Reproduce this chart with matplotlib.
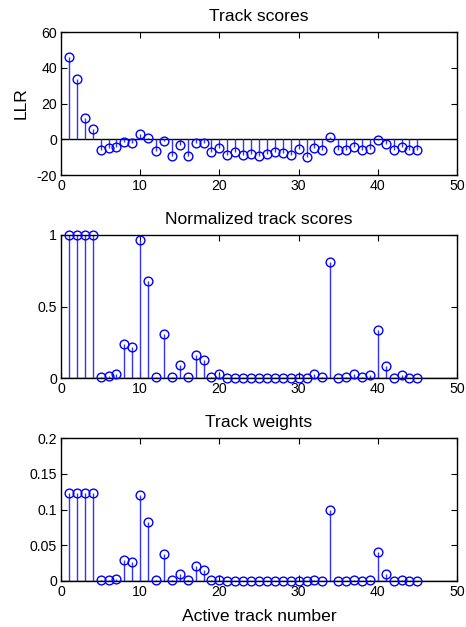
import matplotlib
matplotlib.use("Agg")
import matplotlib.pyplot as plt
import numpy as np

plt.rcParams['font.family'] = ['Liberation Sans', 'DejaVu Sans']

track = np.arange(1, 46)

llr = [46.2, 33.5, 12.0, 5.6, -6.2, -4.7, -4.1, -1.7, -1.9, 3.2,
       0.6, -6.7, -0.9, -9.3, -3.4, -9.2, -2.2, -2.2, -7.3, -4.7,
       -8.8, -7.3, -8.6, -8.0, -9.3, -8.2, -6.9, -7.5, -8.8, -5.6,
       -9.9, -4.7, -5.8, 1.1, -6.0, -6.2, -4.5, -5.8, -5.2, -0.4,
       -2.8, -6.0, -4.5, -6.0, -6.0]

normalized = [1.0, 1.0, 1.0, 1.0, 0.007, 0.016, 0.028, 0.235, 0.22, 0.963,
              0.677, 0.01, 0.31, 0.01, 0.088, 0.01, 0.158, 0.126, 0.008, 0.026,
              0.003, 0.003, 0.003, 0.003, 0.003, 0.003, 0.003, 0.003, 0.003, 0.003,
              0.003, 0.026, 0.004, 0.814, 0.003, 0.004, 0.026, 0.004, 0.02, 0.335,
              0.086, 0.003, 0.02, 0.003, 0.003]

weights = [0.123, 0.123, 0.123, 0.123, 0.001, 0.001, 0.003, 0.030, 0.026, 0.120,
           0.083, 0.001, 0.038, 0.001, 0.010, 0.001, 0.021, 0.015, 0.001, 0.002,
           0.0005, 0.0005, 0.0005, 0.0005, 0.0005, 0.0005, 0.0005, 0.0005, 0.0005, 0.0005,
           0.0005, 0.002, 0.0005, 0.100, 0.0005, 0.0005, 0.002, 0.0005, 0.002, 0.041,
           0.010, 0.0005, 0.002, 0.0005, 0.0005]

titles = ["Track scores", "Normalized track scores", "Track weights"]
ylims = [(-20, 60), (0, 1), (0, 0.2)]
yticks = [[-20, 0, 20, 40, 60], [0, 0.5, 1], [0, 0.05, 0.1, 0.15, 0.2]]
yticklabels = [["-20", "0", "20", "40", "60"], ["0", "0.5", "1"],
               ["0", "0.05", "0.1", "0.15", "0.2"]]
xticks = [0, 10, 20, 30, 40, 50]

W, H = 466, 627
fig = plt.figure(figsize=(W / 100, H / 100), dpi=100)

left, right = 61, 457
tops = [32, 235, 438]
ax_h = 143

series = [llr, normalized, weights]
fs = 12.6
tfs = 10.2

for i, (vals, title) in enumerate(zip(series, titles)):
    top = tops[i]
    ax = fig.add_axes([left / W, (H - top - ax_h) / H, (right - left) / W, ax_h / H])
    ax.vlines(track, 0, vals, colors=(0.2, 0.2, 1.0), linewidth=1.0, zorder=2)
    ax.plot(track, vals, linestyle='none', marker='o', markersize=6.3,
            markerfacecolor='none', markeredgecolor='blue', markeredgewidth=1.0,
            zorder=3, clip_on=False)
    ax.axhline(0, color='black', linewidth=1.0, zorder=1)
    ax.set_xlim(0, 50)
    ax.set_ylim(*ylims[i])
    ax.set_xticks(xticks)
    ax.set_xticklabels([str(t) for t in xticks])
    ax.set_yticks(yticks[i])
    ax.set_yticklabels(yticklabels[i])
    ax.tick_params(direction='in', top=True, right=True, length=4, width=0.8,
                   labelsize=tfs, pad=3, colors='black')
    for s in ax.spines.values():
        s.set_linewidth(1.0)
    ax.set_title(title, fontsize=fs, pad=8)
    if i == 0:
        ax.set_ylabel("LLR", fontsize=fs, labelpad=6)
    if i == 2:
        ax.set_xlabel("Active track number", fontsize=fs, labelpad=7)

fig.savefig("out.png", dpi=100)
